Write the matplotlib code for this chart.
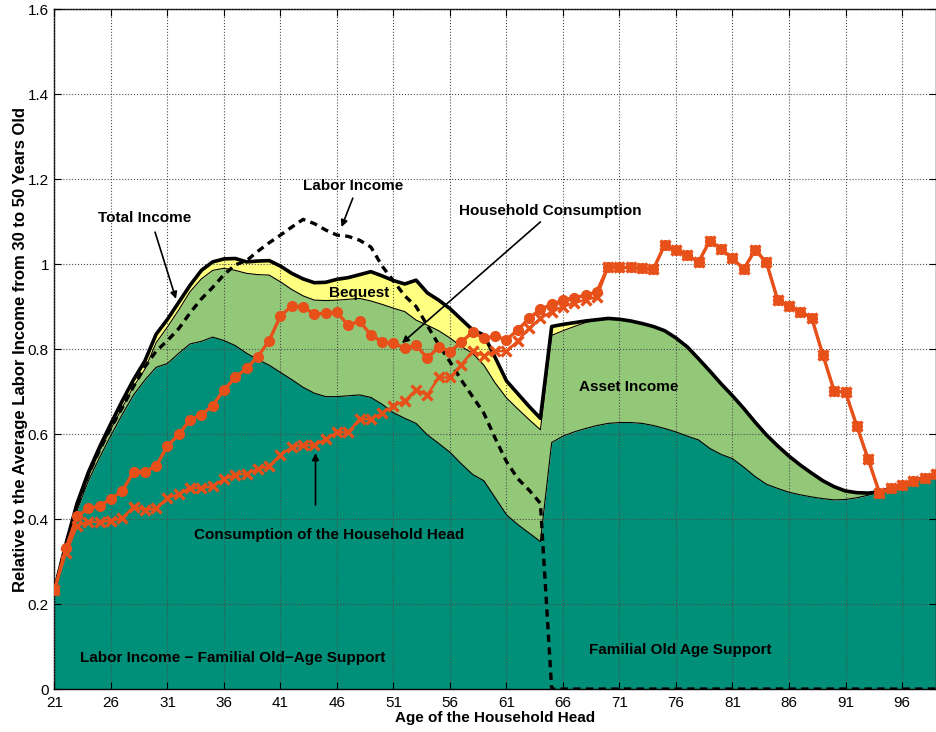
import numpy as np
import matplotlib
matplotlib.use("Agg")
import matplotlib.pyplot as plt

plt.rcParams["font.family"] = ["Liberation Sans", "DejaVu Sans"]

ages = np.arange(21, 100)

# Total income (thick black line, top of the yellow bequest band)
total_income = [
    0.233, 0.340, 0.437, 0.510, 0.570, 0.625, 0.678, 0.728, 0.772, 0.835,
    0.870, 0.910, 0.950, 0.985, 1.005, 1.012, 1.013, 1.005, 1.007, 1.008,
    0.995, 0.978, 0.965, 0.956, 0.957, 0.964, 0.968, 0.975, 0.982, 0.972,
    0.961, 0.953, 0.962, 0.932, 0.915, 0.895, 0.870, 0.845, 0.833, 0.780,
    0.725, 0.695, 0.665, 0.637, 0.853, 0.858, 0.862, 0.866, 0.869, 0.872,
    0.870, 0.866, 0.860, 0.853, 0.843, 0.826, 0.805, 0.777, 0.748, 0.718,
    0.690, 0.660, 0.628, 0.598, 0.572, 0.548, 0.527, 0.508, 0.490, 0.476,
    0.466, 0.462, 0.461, 0.464, 0.472, 0.480, 0.490, 0.498, 0.506,
]

# top of the asset income band (light green)
asset_top = [
    0.233, 0.336, 0.430, 0.500, 0.560, 0.612, 0.662, 0.712, 0.752, 0.815,
    0.852, 0.892, 0.935, 0.965, 0.985, 0.990, 0.985, 0.978, 0.975, 0.974,
    0.958, 0.940, 0.925, 0.915, 0.914, 0.915, 0.917, 0.919, 0.913, 0.905,
    0.896, 0.888, 0.868, 0.856, 0.843, 0.826, 0.806, 0.790, 0.762, 0.720,
    0.685, 0.659, 0.634, 0.610, 0.832, 0.843, 0.853, 0.862, 0.869, 0.872,
    0.870, 0.866, 0.860, 0.853, 0.843, 0.826, 0.805, 0.777, 0.748, 0.718,
    0.690, 0.660, 0.628, 0.598, 0.572, 0.548, 0.527, 0.508, 0.490, 0.476,
    0.466, 0.462, 0.461, 0.464, 0.472, 0.480, 0.490, 0.498, 0.506,
]

# labor income - familial old-age support (dark teal)
support_top = [
    0.233, 0.330, 0.420, 0.490, 0.545, 0.597, 0.646, 0.692, 0.727, 0.757,
    0.766, 0.790, 0.812, 0.818, 0.828, 0.820, 0.808, 0.790, 0.775, 0.762,
    0.745, 0.728, 0.710, 0.696, 0.688, 0.688, 0.690, 0.692, 0.686, 0.670,
    0.650, 0.637, 0.625, 0.598, 0.578, 0.557, 0.530, 0.505, 0.490, 0.450,
    0.410, 0.387, 0.367, 0.347, 0.580, 0.595, 0.605, 0.613, 0.620, 0.625,
    0.627, 0.627, 0.625, 0.620, 0.613, 0.605, 0.595, 0.586, 0.566, 0.552,
    0.542, 0.522, 0.500, 0.482, 0.472, 0.463, 0.457, 0.452, 0.448, 0.445,
    0.446, 0.450, 0.456, 0.464, 0.472, 0.480, 0.490, 0.498, 0.506,
]

labor_income = [
    0.233, 0.338, 0.433, 0.505, 0.563, 0.615, 0.662, 0.712, 0.758, 0.795,
    0.820, 0.848, 0.885, 0.918, 0.945, 0.975, 0.998, 1.008, 1.030, 1.050,
    1.068, 1.087, 1.105, 1.095, 1.080, 1.068, 1.065, 1.056, 1.040, 0.995,
    0.960, 0.925, 0.900, 0.855, 0.810, 0.770, 0.727, 0.688, 0.649, 0.590,
    0.535, 0.495, 0.468, 0.437, 0.0, 0.0, 0.0, 0.0, 0.0, 0.0,
    0.0, 0.0, 0.0, 0.0, 0.0, 0.0, 0.0, 0.0, 0.0, 0.0,
    0.0, 0.0, 0.0, 0.0, 0.0, 0.0, 0.0, 0.0, 0.0, 0.0,
    0.0, 0.0, 0.0, 0.0, 0.0, 0.0, 0.0, 0.0, 0.0,
]

household_cons = [
    0.233, 0.331, 0.407, 0.425, 0.431, 0.448, 0.466, 0.511, 0.511, 0.525,
    0.572, 0.599, 0.634, 0.645, 0.667, 0.704, 0.733, 0.755, 0.782, 0.820,
    0.878, 0.901, 0.899, 0.882, 0.884, 0.886, 0.856, 0.866, 0.833, 0.817,
    0.813, 0.802, 0.809, 0.778, 0.805, 0.794, 0.816, 0.840, 0.825, 0.830,
    0.822, 0.845, 0.872, 0.894, 0.905, 0.915, 0.921, 0.926, 0.935, 0.994,
    0.992, 0.992, 0.990, 0.988, 1.045, 1.033, 1.021, 1.005, 1.055, 1.035,
    1.013, 0.988, 1.033, 1.004, 0.915, 0.901, 0.888, 0.874, 0.786, 0.701,
    0.698, 0.619, 0.541, 0.462, 0.472, 0.480, 0.490, 0.497, 0.505,
]

head_cons = [
    0.233, 0.319, 0.384, 0.394, 0.393, 0.396, 0.402, 0.429, 0.421, 0.425,
    0.450, 0.458, 0.474, 0.472, 0.478, 0.494, 0.504, 0.507, 0.517, 0.525,
    0.551, 0.569, 0.574, 0.573, 0.588, 0.604, 0.604, 0.635, 0.635, 0.649,
    0.666, 0.678, 0.704, 0.692, 0.733, 0.733, 0.763, 0.795, 0.784, 0.795,
    0.795, 0.819, 0.849, 0.872, 0.888, 0.900, 0.908, 0.916, 0.922, 0.994,
    0.992, 0.992, 0.990, 0.988, 1.045, 1.033, 1.021, 1.005, 1.055, 1.035,
    1.013, 0.988, 1.033, 1.004, 0.915, 0.901, 0.888, 0.874, 0.786, 0.701,
    0.698, 0.619, 0.541, 0.462, 0.472, 0.480, 0.490, 0.497, 0.505,
]

teal = "#008f78"
green = "#93c879"
yellow = "#ffff80"
orange = "#e8501a"

fig = plt.figure(figsize=(9.36, 7.32), dpi=100)
ax = fig.add_axes([0.0582, 0.0587, 0.9417, 0.929])

ax.fill_between(ages, 0, support_top, color=teal, lw=0, zorder=1)
ax.fill_between(ages, support_top, asset_top, color=green, lw=0, zorder=1)
ax.fill_between(ages, asset_top, total_income, color=yellow, lw=0, zorder=1)
ax.plot(ages, support_top, color="k", lw=0.8, zorder=3)
ax.plot(ages, asset_top, color="k", lw=0.8, zorder=3)

ax.plot(ages, labor_income, color="k", lw=2.4, linestyle=(0, (2.2, 1.6)), zorder=4)
ax.plot(ages, total_income, color="k", lw=2.6, zorder=4)

ax.plot(ages, head_cons, color=orange, lw=1.8, marker="x", markersize=6.5,
        markeredgewidth=2.4, zorder=5)
ax.plot(ages, household_cons, color=orange, lw=2.4, marker="o", markersize=7,
        zorder=6)

ax.set_xlim(21, 99)
ax.set_ylim(0, 1.6)
ax.set_xticks(np.arange(21, 100, 5))
ax.set_yticks([0, 0.2, 0.4, 0.6, 0.8, 1, 1.2, 1.4, 1.6])
ax.set_yticklabels(["0", "0.2", "0.4", "0.6", "0.8", "1", "1.2", "1.4", "1.6"])
ax.set_axisbelow(False)
ax.grid(True, color="0.3", linestyle=":", linewidth=0.8)
ax.tick_params(direction="in", length=5, labelsize=11, top=True, right=True)
ax.tick_params(axis="x", pad=5)
ax.tick_params(axis="y", pad=4)
for s in ax.spines.values():
    s.set_linewidth(1.0)

ax.set_xlabel("Age of the Household Head", fontsize=11, fontweight="bold", labelpad=1)
ax.set_ylabel("Relative to the Average Labor Income from 30 to 50 Years Old",
              fontsize=12, fontweight="bold", labelpad=0)

arrow = dict(arrowstyle="-|>", color="k", lw=1.2, mutation_scale=10, shrinkA=0, shrinkB=0)
tfont = dict(fontsize=11, fontweight="bold", ha="center", va="center")

ax.annotate("", xy=(31.75, 0.918), xytext=(29.9, 1.075), arrowprops=arrow, zorder=7)
ax.text(29.0, 1.108, "Total Income", **tfont)

ax.annotate("", xy=(46.4, 1.087), xytext=(47.4, 1.155), arrowprops=arrow, zorder=7)
ax.text(47.4, 1.184, "Labor Income", **tfont)

ax.annotate("", xy=(51.75, 0.814), xytext=(64.0, 1.099), arrowprops=arrow, zorder=7)
ax.text(64.9, 1.125, "Household Consumption", **tfont)

ax.annotate("", xy=(44.1, 0.555), xytext=(44.1, 0.433), arrowprops=arrow, zorder=7)
ax.text(45.3, 0.362, "Consumption of the Household Head", **tfont)

ax.text(48.0, 0.932, "Bequest", **tfont)
ax.text(71.8, 0.711, "Asset Income", **tfont)
ax.text(36.8, 0.073, "Labor Income \u2212 Familial Old\u2212Age Support", **tfont)
ax.text(76.4, 0.092, "Familial Old Age Support", **tfont)

fig.savefig("out.png", dpi=100)
